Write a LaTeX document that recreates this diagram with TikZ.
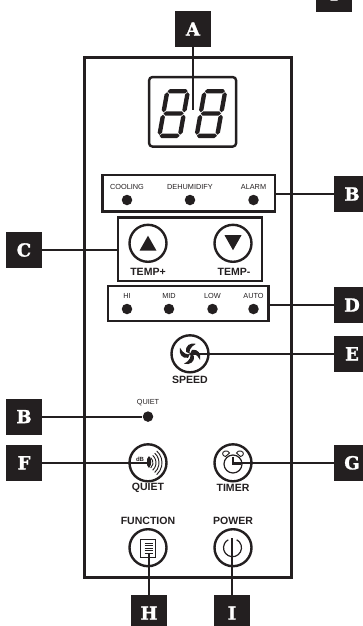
\documentclass[tikz,border=0pt]{standalone}
\usepackage{fontspec}
\setmainfont{Liberation Sans}
\newfontfamily\tagfont{DejaVu Serif}[BoldFeatures={FakeBold=1.5}]
\newcommand{\px}{0.75pt}
\definecolor{ink}{HTML}{231F20}
\tikzset{
    tag/.style={fill=ink,text=white,font=\tagfont\bfseries\fontsize{13.5}{14}\selectfont,minimum size=36*\px,inner sep=0pt},
    panel/.style={draw=ink,line width=1.8pt,inner sep=0pt},
    btn/.style={circle,draw=ink,line width=1.8pt,minimum size=37*\px,inner sep=0pt},
    led/.style={circle,fill=ink,minimum size=10.5*\px,inner sep=0pt},
    small/.style={text=ink,font=\fontsize{5.5}{6}\selectfont,inner sep=0pt},
    caption/.style={text=ink,font=\bfseries\fontsize{7.9}{8}\selectfont,inner sep=0pt},
    leader/.style={draw=ink,line width=1.6pt},
    icon/.style={draw=ink,line width=0.7pt}
}
\begin{document}
\begin{tikzpicture}[x=0.75pt,y=-0.75pt]
    \useasboundingbox (0,0) rectangle (363,626);
    % housing and panels
    \node[panel,minimum width=207*\px,minimum height=520*\px] (housing) at (188,317.6) {};
    \node[panel,rounded corners=2.5pt,minimum width=87*\px,minimum height=69.5*\px] (display) at (192.6,111.8) {};
    \node[panel,minimum width=172.3*\px,minimum height=36.7*\px] (modebox) at (188.8,193.3) {};
    \node[panel,minimum width=144*\px,minimum height=63.3*\px] (tempbox) at (190,249.3) {};
    \node[panel,minimum width=160.7*\px,minimum height=35*\px] (speedbox) at (188.3,303.5) {};
    % seven segment digits
    \foreach \dx in {156.7,194}{
        \begin{scope}[shift={(\dx,138)},xslant=0.18]
            \foreach \sy in {-2.2,-24.5,-46.8}
                \fill[ink] (2.4,\sy) -- (4.6,\sy-2.2) -- (20.4,\sy-2.2) -- (22.6,\sy) -- (20.4,\sy+2.2) -- (4.6,\sy+2.2) -- cycle;
            \foreach \sx in {2.2,22.8}
                \foreach \sa/\sb in {-3.2/-23.3,-25.7/-45.8}
                    \fill[ink] (\sx,\sa) -- (\sx+2.2,\sa-2.2) -- (\sx+2.2,\sb+2.2) -- (\sx,\sb) -- (\sx-2.2,\sb+2.2) -- (\sx-2.2,\sa-2.2) -- cycle;
        \end{scope}
    }
    \coordinate (displayend) at (193,110);
    % lamps
    \foreach \name/\lx/\txt in {cool/127/COOLING,dehum/190/DEHUMIDIFY,alarm/253.5/ALARM}{
        \node[small] (\name label) at (\lx,186.7) {\txt};
        \node[led] (\name) at (\lx,200) {};
    }
    \foreach \name/\lx/\txt in {hi/127/HI,mid/169/MID,low/212.5/LOW,auto/253.5/AUTO}{
        \node[small] (\name label) at (\lx,296.3) {\txt};
        \node[led] (\name) at (\lx,309) {};
    }
    \node[small] (quietlabel) at (148,402.7) {QUIET};
    \node[led] (quietled) at (148,416.6) {};
    % buttons
    \node[btn] (tempup) at (148,243.3) {};
    \node[btn] (tempdown) at (233,243.3) {};
    \node[btn] (speed) at (190,353.8) {};
    \node[btn] (quiet) at (148,462.8) {};
    \node[btn] (timer) at (233,462.8) {};
    \node[btn] (function) at (148,547.7) {};
    \node[btn] (power) at (233,547.7) {};
    \fill[ink] (139.5,250.7) -- (148,235.7) -- (156.5,250.7) -- cycle;
    \fill[ink] (224.5,235.2) -- (233,250.2) -- (241.5,235.2) -- cycle;
    % fan
    \foreach \ang in {0,90,180,270}
        \fill[ink,shift={(190,353.8)},rotate=\ang] (0,0) .. controls (-1.5,-2) and (0,-7) .. (6,-10) .. controls (0,-11.5) and (-5,-8) .. (-4,-2) -- cycle;
    % quiet icon
    \node[text=ink,font=\bfseries\fontsize{4.5}{5}\selectfont,inner sep=0pt] (dbmark) at (140,459.8) {dB};
    \fill[ink] (149,456) .. controls (152,459) and (152,465) .. (149,468) -- (147,465) -- (147,459) -- cycle;
    \foreach \rr in {7,10,13,16}
        \draw[icon,shift={(146,462.8)}] (-48:\rr) arc (-48:48:\rr);
    % timer icon
    \draw[icon,line width=0.9pt] (233,464) circle (9);
    \draw[icon,line width=0.9pt] (233,457) -- (233,464) -- (241,464);
    \draw[icon] (225.5,456.5) .. controls (222,456) and (221.5,452) .. (225,451) .. controls (227,450.5) and (229,451.5) .. (229.5,453) -- cycle;
    \draw[icon] (240.5,456.5) .. controls (244,456) and (244.5,452) .. (241,451) .. controls (239,450.5) and (237,451.5) .. (236.5,453) -- cycle;
    % function icon
    \draw[icon] (140.7,539.3) rectangle (155.7,557.3);
    \foreach \ly in {543,545.5,548,550.5,553}
        \draw[icon] (144.5,\ly) -- (152.5,\ly);
    \coordinate (functionend) at (149,553);
    % power icon
    \draw[icon,line width=0.9pt] (232.5,547.7) ++(-62:9) arc (-62:242:9);
    \coordinate (powerend) at (232,538);
    % captions
    \node[caption] (tempuplabel) at (148,272.3) {TEMP+};
    \node[caption] (tempdownlabel) at (234,272.3) {TEMP-};
    \node[caption] (speedlabel) at (190,380) {SPEED};
    \node[caption] (quietcaption) at (148,487.7) {QUIET};
    \node[caption] (timerlabel) at (233,487.7) {TIMER};
    \node[caption] (functionlabel) at (148,521) {FUNCTION};
    \node[caption] (powerlabel) at (233,521) {POWER};
    % tags
    \node[tag] (tagA) at (193,29) {A};
    \node[tag] (tagBr) at (352,194) {B};
    \node[tag] (tagC) at (24,250) {C};
    \node[tag] (tagD) at (352,305) {D};
    \node[tag] (tagE) at (352,353.8) {E};
    \node[tag] (tagBl) at (24,416.6) {B};
    \node[tag] (tagF) at (24,462.8) {F};
    \node[tag] (tagG) at (352,462.8) {G};
    \node[tag] (tagH) at (149,613) {H};
    \node[tag] (tagI) at (232,613) {I};
    \node[tag] (tagtop) at (334,-6) {\raisebox{-1.5pt}{I}};
    % connectors
    \draw[leader] (tagA) -- (displayend);
    \draw[leader] (tagBr) -- (tagBr -| modebox.east);
    \draw[leader] (tagC) -- (tagC -| tempbox.west);
    \draw[leader] (tagD) -- (tagD -| speedbox.east);
    \draw[leader] (tagE) -- (speed.center);
    \draw[leader] (tagBl) -- (quietled);
    \draw[leader] (tagF) -- (quiet.center);
    \draw[leader] (tagG) -- (timer.center);
    \draw[leader] (tagH) -- (functionend);
    \draw[leader] (tagI) -- (powerend);
\end{tikzpicture}
\end{document}
